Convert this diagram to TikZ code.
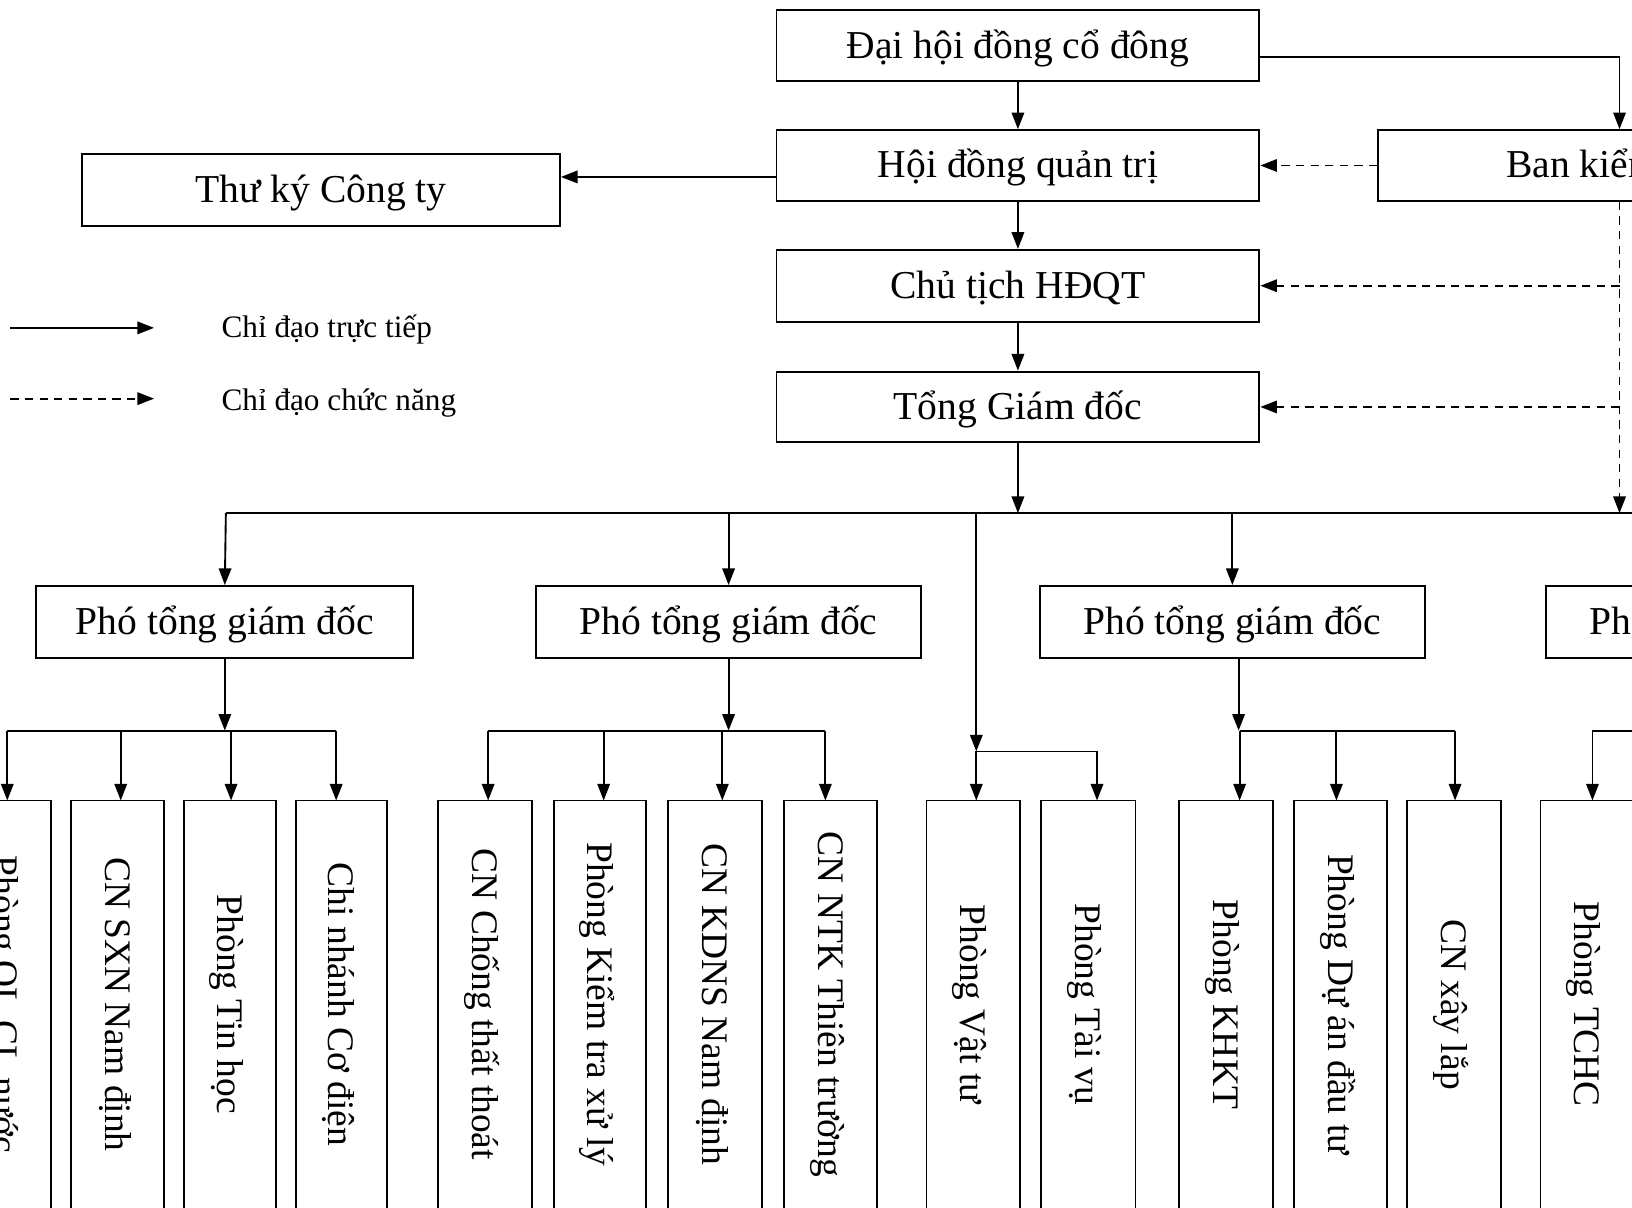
\documentclass[tikz,border=0pt]{standalone}
\usepackage{fontspec}
\setmainfont{Liberation Serif}
\usetikzlibrary{arrows.meta}
\begin{document}
\begin{tikzpicture}[x=1pt,y=-1pt,line width=1.8pt,
  tip/.style={-{Triangle[length=16pt,width=12pt]}},
  dsh/.style={dash pattern=on 8pt off 6pt},
  hbox/.style={draw,line width=1.8pt,inner sep=0pt,minimum height=68pt,
    font=\fontsize{38}{44}\selectfont,text height=27pt,text depth=3pt},
  vbox/.style={inner sep=0pt,rotate=-90,
    minimum width=390pt,minimum height=88pt,
    font=\fontsize{36}{42}\selectfont,text height=26pt,text depth=2pt},
  legtext/.style={anchor=west,inner sep=0pt,font=\fontsize{30}{36}\selectfont,
    text height=21pt,text depth=3pt}]
\useasboundingbox (0,0) rectangle (1568,1160);
\fill[white] (0,0) rectangle (1568,1160);
\clip (0,0) rectangle (1568,1160);

% top column
\node[hbox,minimum width=464pt] (dh) at (978,44) {Đại hội đồng cổ đông};
\node[hbox,minimum width=464pt] (hdqt) at (978,159) {Hội đồng quản trị};
\node[hbox,minimum width=464pt,minimum height=69pt] (ct) at (978,274.5) {Chủ tịch HĐQT};
\node[hbox,minimum width=464pt] (tgd) at (978,391) {Tổng Giám đốc};
\node[hbox,minimum width=459pt,minimum height=69pt] (tk) at (308.5,182.5) {Thư ký Công ty};
\node[hbox,minimum width=464pt] (bks) at (1556,159) {Ban kiểm soát};

% legend
\coordinate (la1) at (10,315);
\coordinate (la2) at (148,315);
\coordinate (lb1) at (10,383);
\coordinate (lb2) at (148,383);
\draw[tip] (la1) -- (la2);
\draw[tip,dsh] (lb1) -- (lb2);
\node[legtext] (lt1) at (212,315) {Chỉ đạo trực tiếp};
\node[legtext] (lt2) at (212,385) {Chỉ đạo chức năng};

% vice directors
\node[hbox,minimum width=362pt,minimum height=69pt] (p1) at (216,597.5) {Phó tổng giám đốc};
\node[hbox,minimum width=370pt,minimum height=69pt] (p2) at (700,597.5) {Phó tổng giám đốc};
\node[hbox,minimum width=370pt,minimum height=69pt] (p3) at (1184,597.5) {Phó tổng giám đốc};
\node[hbox,minimum width=370pt,minimum height=69pt] (p4) at (1670,597.5) {Phó tổng giám đốc};

% departments (boxes run past the lower edge)
\node[vbox] (vA) at (4.5,965) {Phòng QL CL nước};
\node[vbox] (vB) at (113,965) {CN SXN Nam định};
\node[vbox,minimum height=86pt] (vC) at (221,965) {Phòng Tin học};
\node[vbox,minimum height=86pt] (vD) at (328,965) {Chi nhánh Cơ điện};
\node[vbox] (vE) at (466,965) {CN Chống thất thoát};
\node[vbox,minimum height=87pt] (vF) at (576.5,965) {Phòng Kiểm tra xử lý};
\node[vbox] (vG) at (687,965) {CN KDNS Nam định};
\node[vbox] (vH) at (798,965) {CN NTK Thiên trường};
\node[vbox] (vI) at (935,965) {Phòng Vật tư};
\node[vbox,minimum height=89pt] (vJ) at (1045.5,965) {Phòng Tài vụ};
\node[vbox] (vK) at (1178,965) {Phòng KHKT};
\node[vbox] (vL) at (1288,965) {Phòng Dự án đầu tư};
\node[vbox] (vM) at (1397,965) {CN xây lắp};
\node[vbox] (vN) at (1525,965) {Phòng TCHC};
\foreach \n in {vA,vB,vC,vD,vE,vF,vG,vH,vI,vJ,vK,vL,vM,vN}
  \draw (\n.south east) -- (\n.south west) -- (\n.north west) -- (\n.north east);

% main chain
\draw[tip] (dh) -- (hdqt);
\draw[tip] (hdqt) -- (ct);
\draw[tip] (ct) -- (tgd);
\coordinate (dhr) at ([yshift=-11pt]dh.east);
\draw[tip] (dhr) -| (bks.north);
\coordinate (hk) at ([yshift=-11pt]hdqt.west);
\draw[tip] (hk) -- (hk -| tk.east);

% functional (dashed)
\coordinate (bus) at (217,493);
\coordinate (busR) at (1700,493);
\draw[tip,dsh] (bks.west) -- (hdqt.east);
\draw[tip,dsh] (bks.south) -- (bks.south |- bus);
\draw[tip,dsh] (bks.south |- ct.east) -- (ct.east);
\draw[tip,dsh] (bks.south |- tgd.east) -- (tgd.east);

% distribution bus
\draw (bus) -- (busR);
\draw[tip] (tgd.south) -- (tgd.south |- bus);
\draw[tip] (bus) -- (p1.north);
\draw[tip] (bus -| p2.north) -- (p2.north);
\draw[tip] (bus -| p3.north) -- (p3.north);
\draw (busR) -- (busR |- p4.north);

% group 1
\coordinate (a1) at (7,702);
\coordinate (a2) at (116,702);
\coordinate (a3) at (222,702);
\coordinate (a4) at (323,702);
\draw[tip] (p1.south) -- (p1.south |- a1);
\draw (a1) -- (a4);
\draw[tip] (a1) -- (a1 |- vA.west);
\draw[tip] (a2) -- (a2 |- vB.west);
\draw[tip] (a3) -- (a3 |- vC.west);
\draw[tip] (a4) -- (a4 |- vD.west);

% group 2
\coordinate (b1) at (469,702);
\coordinate (b2) at (580,702);
\coordinate (b3) at (694,702);
\coordinate (b4) at (793,702);
\draw[tip] (p2.south) -- (p2.south |- b1);
\draw (b1) -- (b4);
\draw[tip] (b1) -- (b1 |- vE.west);
\draw[tip] (b2) -- (b2 |- vF.west);
\draw[tip] (b3) -- (b3 |- vG.west);
\draw[tip] (b4) -- (b4 |- vH.west);

% middle group (direct)
\coordinate (m0) at (938,493);
\coordinate (m1) at (938,722);
\coordinate (m2) at (1054,722);
\draw[tip] (m0) -- (m1);
\draw (m1) -- (m2);
\draw[tip] (m1) -- (m1 |- vI.west);
\draw[tip] (m2) -- (m2 |- vJ.west);

% group 3
\coordinate (c0) at ([xshift=6pt]p3.south);
\coordinate (c1) at (1191,702);
\coordinate (c2) at (1284,702);
\coordinate (c3) at (1398,702);
\draw[tip] (c0) -- (c0 |- c1);
\draw (c1) -- (c3);
\draw[tip] (c1) -- (c1 |- vK.west);
\draw[tip] (c2) -- (c2 |- vL.west);
\draw[tip] (c3) -- (c3 |- vM.west);

% group 4
\coordinate (d1) at (1530,702);
\coordinate (d2) at (1700,702);
\draw (p4.south) -- (p4.south |- d1);
\draw (d1) -- (d2);
\draw[tip] (d1) -- (d1 |- vN.west);
\end{tikzpicture}
\end{document}
